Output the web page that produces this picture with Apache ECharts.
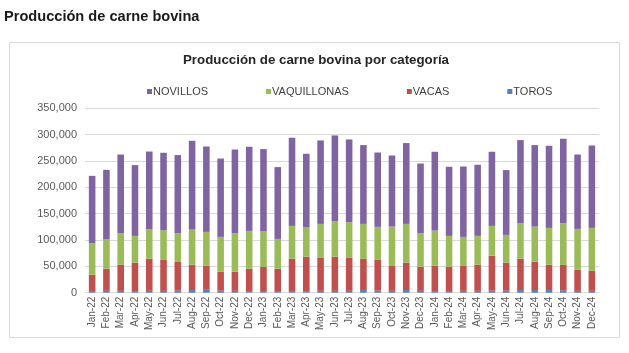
<!DOCTYPE html>
<html>
<head>
<meta charset="utf-8">
<script src="https://cdn.jsdelivr.net/npm/echarts@6/dist/echarts.min.js"></script>
<style>
    html, body { margin: 0; padding: 0; background: #fff; }
    #chart { width: 629px; height: 353px; }
</style>
</head>
<body>
<div id="chart"></div>
<script>
// meses
const months = [
    "Jan-22", "Feb-22", "Mar-22", "Apr-22", "May-22", "Jun-22", "Jul-22", "Aug-22", "Sep-22", "Oct-22", "Nov-22", "Dec-22",
    "Jan-23", "Feb-23", "Mar-23", "Apr-23", "May-23", "Jun-23", "Jul-23", "Aug-23", "Sep-23", "Oct-23", "Nov-23", "Dec-23",
    "Jan-24", "Feb-24", "Mar-24", "Apr-24", "May-24", "Jun-24", "Jul-24", "Aug-24", "Sep-24", "Oct-24", "Nov-24", "Dec-24",
];

const toros = [
    3000, 3500, 3500, 3000, 3500, 3500, 4000, 5000, 5500, 4000, 3500, 3000,
    3000, 3000, 3000, 3000, 3500, 3500, 3500, 5000, 4000, 3500, 5000, 3500,
    3000, 3000, 3500, 3500, 4000, 4000, 5000, 5000, 5000, 4500, 3500, 3500,
];

const vacas = [
    31200, 42100, 49700, 54000, 61100, 58700, 54400, 48200, 45800, 35900, 36400, 42600,
    45900, 42600, 61600, 65400, 62500, 64900, 62500, 59100, 58200, 47300, 52000, 45900,
    48300, 46400, 47300, 49700, 66300, 53000, 59600, 53900, 48200, 48200, 40200, 38300,
];

const vaquillonas = [
    59700, 55900, 59700, 50800, 55900, 56400, 54500, 66600, 64100, 66000, 73000, 71700,
    67800, 56500, 62200, 55900, 64600, 67300, 67800, 66500, 62700, 74700, 73600, 63500,
    66600, 58400, 55100, 54600, 56500, 52700, 67300, 66600, 69800, 79200, 77400, 81200,
];

const novillos = [
    127900, 131700, 149400, 134400, 147500, 147000, 148300, 168600, 162100, 148800, 158900, 159700,
    155900, 136300, 167300, 139400, 158400, 162800, 157100, 149600, 141200, 134900, 153400, 132300,
    149600, 131200, 133600, 135000, 140700, 123000, 157800, 154700, 155900, 160300, 141200, 156400,
];

const yTicks = { min: 0, max: 350000, interval: 50000 };

const font = "Liberation Sans, Arial, sans-serif";
const gridColor = "#d9d9d9";

const makeSeries = (name, data, color) => ({
    name,
    type: "bar",
    stack: "total",
    data,
    barWidth: "46%",
    itemStyle: { color },
    emphasis: { disabled: true },
});

const myChart = echarts.init(document.getElementById("chart"), null, { renderer: "canvas" });

const option = {
    animation: false,
    textStyle: { fontFamily: font },
    title: [
        {
            text: "Producción de carne bovina",
            left: 4,
            top: 9,
            padding: 0,
            textStyle: { fontFamily: font, fontSize: 14.6, fontWeight: "bold", color: "#1a1a1a" },
        },
        {
            text: "Producción de carne bovina por categoría",
            left: 183,
            top: 54,
            padding: 0,
            textStyle: { fontFamily: font, fontSize: 13.3, fontWeight: "bold", color: "#262626" },
        },
    ],
    graphic: [
        {
            type: "rect",
            shape: { x: 9.5, y: 42.5, width: 610, height: 295 },
            style: { fill: "none", stroke: gridColor, lineWidth: 1 },
            silent: true,
        },
    ],
    legend: {
        data: ["NOVILLOS", "VAQUILLONAS", "VACAS", "TOROS"],
        left: 147,
        top: 86,
        padding: 0,
        itemWidth: 5,
        itemHeight: 5,
        itemGap: 58,
        icon: "rect",
        textStyle: { fontFamily: font, fontSize: 11, color: "#404040", padding: [0, 0, 0, -4] },
    },
    grid: {
        left: 85,
        right: 30,
        top: 108.3,
        bottom: 60.3,
    },
    xAxis: {
        type: "category",
        data: months,
        axisTick: { show: false },
        axisLine: { show: true, lineStyle: { color: gridColor, width: 1 } },
        axisLabel: {
            interval: 0,
            rotate: 90,
            margin: 4,
            fontFamily: font,
            fontSize: 10,
            color: "#595959",
        },
    },
    yAxis: {
        type: "value",
        min: yTicks.min,
        max: yTicks.max,
        interval: yTicks.interval,
        axisLine: { show: false },
        axisTick: { show: false },
        splitLine: { lineStyle: { color: gridColor, width: 1 } },
        axisLabel: {
            margin: 8,
            fontFamily: font,
            fontSize: 11,
            color: "#595959",
            formatter: value => value.toLocaleString("en-US"),
        },
    },
    series: [
        makeSeries("TOROS", toros, "#4f81bd"),
        makeSeries("VACAS", vacas, "#c0504d"),
        makeSeries("VAQUILLONAS", vaquillonas, "#9bbb59"),
        makeSeries("NOVILLOS", novillos, "#8064a2"),
    ],
};

myChart.setOption(option);
</script>
</body>
</html>
